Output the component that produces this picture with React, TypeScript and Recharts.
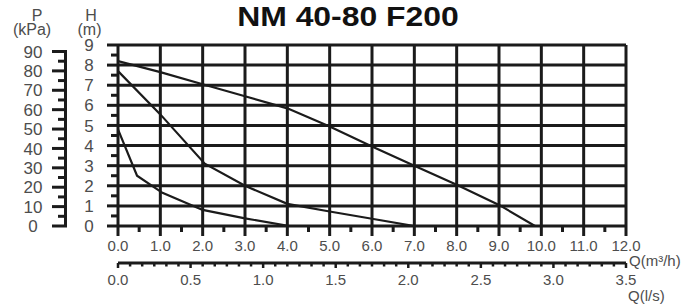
import { LineChart, Line, XAxis, YAxis, CartesianGrid } from "recharts";

// pump curves, Q in m3/h, H in m
const CURVE_HIGH = [
  { q: 0, h: 8.2 }, { q: 1, h: 7.65 }, { q: 2, h: 7.05 }, { q: 3, h: 6.45 }, { q: 4, h: 5.85 },
  { q: 5, h: 4.95 }, { q: 6, h: 3.95 }, { q: 7, h: 3.0 }, { q: 8, h: 2.05 }, { q: 9, h: 1.05 }, { q: 9.85, h: 0 },
];
const CURVE_MID = [
  { q: 0, h: 7.7 }, { q: 1, h: 5.55 }, { q: 2.05, h: 3.1 }, { q: 3, h: 2.0 }, { q: 4, h: 1.1 },
  { q: 5, h: 0.72 }, { q: 6, h: 0.36 }, { q: 7, h: 0 },
];
const CURVE_LOW = [
  { q: 0, h: 4.8 }, { q: 0.45, h: 2.5 }, { q: 1.05, h: 1.65 }, { q: 2, h: 0.8 }, { q: 3, h: 0.38 }, { q: 4.05, h: 0 },
];

const FLOW_LABELS = [0, 1, 2, 3, 4, 5, 6, 7, 8, 9, 10, 11, 12];
const LPS_LABELS = [0, 0.5, 1, 1.5, 2, 2.5, 3, 3.5];
const HEAD_LABELS = [0, 1, 2, 3, 4, 5, 6, 7, 8, 9];
const PRES_LABELS = [0, 10, 20, 30, 40, 50, 60, 70, 80, 90];

const PRES_TOP = 93.35; // kPa at the top edge of the plot
const PLOT_H = 181;

const INK = "#1b1b1b";
const GREY = "#4d4d4d";
const FONT = "'Liberation Sans', Arial, sans-serif";

// split each labelled interval into n parts for the minor ticks
function subdivide(labels: number[], n: number) {
  const out: number[] = [];
  labels.forEach((v, i) => {
    out.push(v);
    if (i < labels.length - 1) {
      const step = (labels[i + 1] - v) / n;
      for (let k = 1; k < n; k++) out.push(v + step * k);
    }
  });
  return out;
}

const isLabelled = (v: number, labels: number[]) => labels.some((l) => Math.abs(l - v) < 1e-6);

// the l/s axis has no curve of its own, so it gets an invisible one to carry its domain
const LPS_POINTS = LPS_LABELS.map((v) => ({ lps: v }));

const HeadTick = ({ x, y, payload }: any) => {
  const major = isLabelled(payload.value, HEAD_LABELS);
  return (
    <g>
      <line x1={x - (major ? 11 : 7)} x2={x} y1={y} y2={y} stroke={INK} strokeWidth={3} />
      {major && (
        <text x={x - 29} y={y} dy="0.36em" textAnchor="middle" fontSize={17} fill={GREY} fontFamily={FONT}>
          {payload.value}
        </text>
      )}
    </g>
  );
};

const PresTick = ({ x, y, payload }: any) => {
  const v = payload.value;
  const major = isLabelled(v, PRES_LABELS);
  const seg = (PLOT_H * 5) / PRES_TOP;
  const top = v >= 90 - 1e-6;
  return (
    <g>
      {v > 0 && <line x1={x - 1.5} x2={x - 1.5} y1={top ? y - 1.5 : y} y2={y + seg} stroke={INK} strokeWidth={3} />}
      <line x1={x - (major ? 15 : 9)} x2={x} y1={y} y2={y} stroke={INK} strokeWidth={3} />
      {major && (
        <text x={x - 34} y={y} dy="0.36em" textAnchor="middle" fontSize={17} fill={GREY} fontFamily={FONT}>
          {v}
        </text>
      )}
    </g>
  );
};

const FlowTick = ({ x, y, payload }: any) => {
  const major = isLabelled(payload.value, FLOW_LABELS);
  return (
    <g>
      <line x1={x} x2={x} y1={y} y2={y + (major ? 10 : 6)} stroke={INK} strokeWidth={3} />
      {major && (
        <text x={x} y={y + 25} textAnchor="middle" fontSize={15} fill={GREY} fontFamily={FONT}>
          {payload.value.toFixed(1)}
        </text>
      )}
    </g>
  );
};

const LpsTick = ({ x, y, payload }: any) => {
  const major = isLabelled(payload.value, LPS_LABELS);
  return (
    <g>
      <line x1={x} x2={x} y1={y} y2={y + (major ? 5 : 3.5)} stroke={INK} strokeWidth={2.5} />
      {major && (
        <text x={x} y={y + 22} textAnchor="middle" fontSize={15} fill={GREY} fontFamily={FONT}>
          {payload.value.toFixed(1)}
        </text>
      )}
    </g>
  );
};

export default function App() {
  const txt = { fontFamily: FONT, fill: GREY, fontSize: 16 };
  return (
    <div style={{ position: "relative", width: 684, height: 304, background: "#fff" }}>
      <style>{"body{margin:0}"}</style>
      <LineChart width={684} height={304} margin={{ top: 45, right: 58, bottom: 11, left: 8 }}>
        <CartesianGrid
          xAxisId="flow"
          yAxisId="head"
          horizontalValues={HEAD_LABELS}
          verticalValues={FLOW_LABELS}
          stroke={INK}
          strokeWidth={3}
        />
        <XAxis
          xAxisId="flow"
          dataKey="q"
          type="number"
          domain={[0, 12]}
          allowDataOverflow
          ticks={subdivide(FLOW_LABELS, 2)}
          interval={0}
          height={37}
          axisLine={false}
          tickLine={false}
          tickSize={0}
          tickMargin={0}
          tick={<FlowTick />}
        />
        <XAxis
          xAxisId="lps"
          dataKey="lps"
          type="number"
          domain={[0, 3.5]}
          allowDataOverflow
          ticks={subdivide(LPS_LABELS, 6)}
          interval={0}
          height={30}
          axisLine={{ stroke: INK, strokeWidth: 3 }}
          tickLine={false}
          tickSize={0}
          tickMargin={0}
          tick={<LpsTick />}
        />
        <YAxis
          yAxisId="head"
          type="number"
          domain={[0, 9]}
          allowDataOverflow
          ticks={subdivide(HEAD_LABELS, 2)}
          interval={0}
          width={51}
          axisLine={false}
          tickLine={false}
          tickSize={0}
          tickMargin={0}
          tick={<HeadTick />}
        />
        <YAxis
          yAxisId="pres"
          type="number"
          domain={[0, PRES_TOP]}
          allowDataOverflow
          ticks={subdivide(PRES_LABELS, 2)}
          interval={0}
          width={59}
          axisLine={false}
          tickLine={false}
          tickSize={0}
          tickMargin={0}
          tick={<PresTick />}
        />
        <Line
          data={LPS_POINTS}
          xAxisId="lps"
          yAxisId="head"
          dataKey="none"
          stroke="none"
          dot={false}
          activeDot={false}
          legendType="none"
          isAnimationActive={false}
        />
        {[CURVE_HIGH, CURVE_MID, CURVE_LOW].map((d, i) => (
          <Line
            key={i}
            data={d}
            xAxisId="flow"
            yAxisId="head"
            dataKey="h"
            type="linear"
            stroke={INK}
            strokeWidth={2.2}
            dot={false}
            activeDot={false}
            isAnimationActive={false}
          />
        ))}
      </LineChart>
      <svg width={684} height={304} style={{ position: "absolute", left: 0, top: 0, pointerEvents: "none" }}>
        <text x={348} y={26} textAnchor="middle" fontFamily={FONT} fontWeight="bold" fontSize={28} fill="#111"
          transform="translate(348 0) scale(1.14 1) translate(-348 0)">
          NM 40-80 F200
        </text>
        <text x={37} y={21} textAnchor="middle" {...txt}>P</text>
        <text x={32} y={35} textAnchor="middle" {...txt}>(kPa)</text>
        <text x={91} y={21} textAnchor="middle" {...txt}>H</text>
        <text x={89.5} y={35} textAnchor="middle" {...txt}>(m)</text>
        <text x={629} y={266} {...txt} fontSize={15}>Q(m³/h)</text>
        <text x={628} y={301} {...txt} fontSize={15}>Q(l/s)</text>
      </svg>
    </div>
  );
}
